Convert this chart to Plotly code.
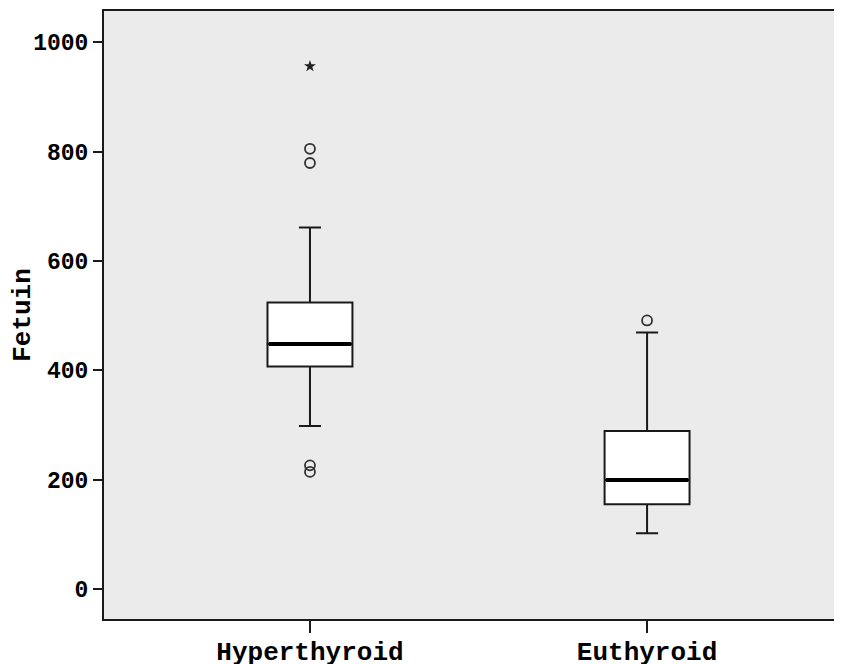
import plotly.graph_objects as go

categories = ["Hyperthyroid", "Euthyroid"]
q1 = [407, 155]
median = [448, 199]
q3 = [524, 289]
lower_whisker = [298, 102]
upper_whisker = [661, 469]

circle_out_x = ["Hyperthyroid", "Hyperthyroid", "Hyperthyroid", "Hyperthyroid", "Euthyroid"]
circle_out_y = [805, 779, 226, 214, 491]
extreme_out_x = ["Hyperthyroid"]
extreme_out_y = [956]

yticks = [0, 200, 400, 600, 800, 1000]

FONT = "Liberation Mono, Courier New, monospace"
LINE = "#1a1a1a"

fig = go.Figure()
fig.add_trace(go.Box(
    x=categories, q1=q1, median=median, q3=q3,
    lowerfence=lower_whisker, upperfence=upper_whisker,
    fillcolor="white", line=dict(color=LINE, width=2),
    width=0.252, whiskerwidth=0.26, boxpoints=False, showlegend=False,
    hoverinfo="skip",
))
# thick median line
fig.add_trace(go.Box(
    x=categories, q1=median, median=median, q3=median,
    lowerfence=median, upperfence=median,
    fillcolor="rgba(0,0,0,0)", line=dict(color="black", width=4),
    width=0.245, whiskerwidth=0, boxpoints=False, showlegend=False,
    hoverinfo="skip",
))
fig.add_trace(go.Scatter(
    x=circle_out_x, y=circle_out_y, mode="markers",
    marker=dict(symbol="circle-open", size=10, color="#333333", line=dict(width=1.8)),
    showlegend=False, hoverinfo="skip",
))
fig.add_trace(go.Scatter(
    x=extreme_out_x, y=extreme_out_y, mode="markers",
    marker=dict(symbol="star", size=9, color="#222222"),
    showlegend=False, hoverinfo="skip",
))

fig.update_layout(
    width=842, height=664,
    margin=dict(l=96, r=0, t=3, b=53),
    paper_bgcolor="white", plot_bgcolor="#ebebeb",
    font=dict(family=FONT, color="black"),
    showlegend=False,
)
fig.update_xaxes(
    type="category", categoryorder="array", categoryarray=categories,
    range=[-0.611, 1.602],
    showline=True, linecolor=LINE, linewidth=2, mirror=True,
    showgrid=False, zeroline=False,
    ticks="outside", ticklen=12, tickwidth=1.5, tickcolor=LINE,
    ticklabelstandoff=-4,
    tickfont=dict(family=FONT, size=26, color="black", weight="bold"),
)
fig.update_yaxes(
    range=[-55, 1057],
    tickvals=yticks, ticktext=[str(v) for v in yticks],
    showline=True, linecolor=LINE, linewidth=2,
    showgrid=False, zeroline=False,
    ticks="outside", ticklen=9, tickwidth=1.5, tickcolor=LINE,
    tickfont=dict(family=FONT, size=23, color="black", weight="bold"),
    title=dict(text="Fetuin", font=dict(family=FONT, size=26, color="black", weight="bold"), standoff=4),
)

fig.write_html("out.html")
